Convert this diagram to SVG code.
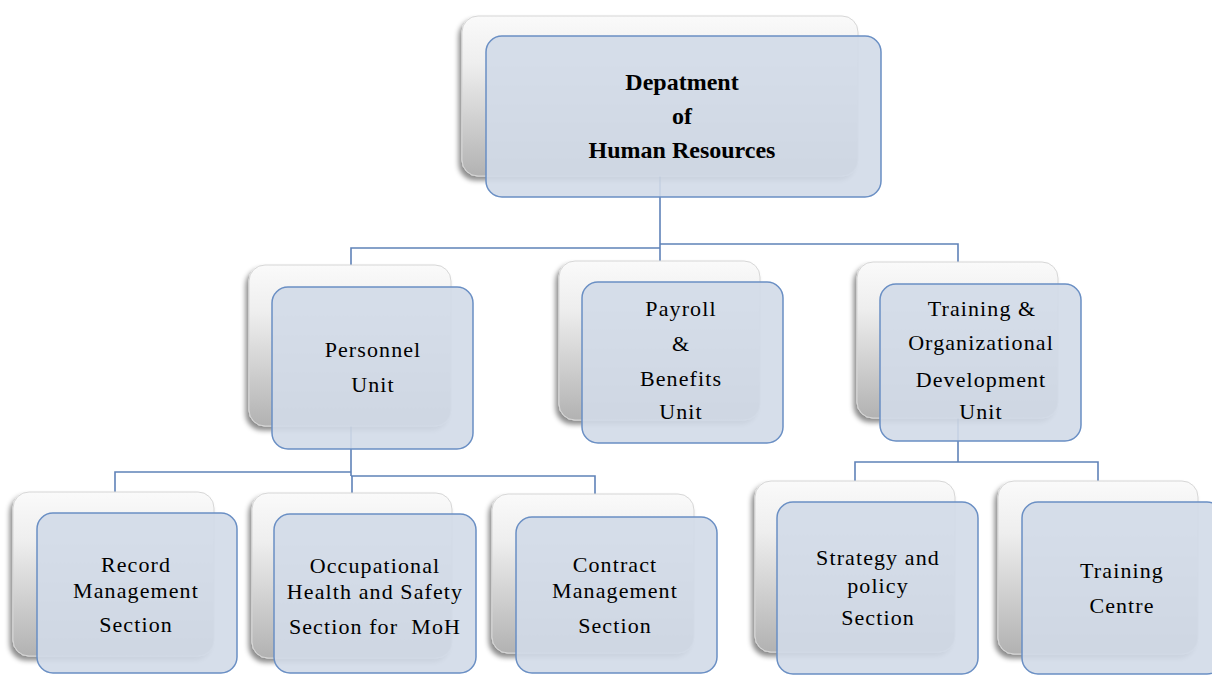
<svg xmlns="http://www.w3.org/2000/svg" width="1212" height="675" viewBox="0 0 1212 675">
<defs>
<linearGradient id="sg" x1="0" y1="0" x2="0" y2="1">
<stop offset="0" stop-color="#fafafa"/>
<stop offset="0.3" stop-color="#eeeeee"/>
<stop offset="1" stop-color="#b2b2b2"/>
</linearGradient>
<filter id="ds" x="-10%" y="-10%" width="120%" height="125%">
<feDropShadow dx="-3" dy="4" stdDeviation="2.5" flood-color="#000" flood-opacity="0.45"/>
</filter>
</defs>
<style>
.back{fill:url(#sg);stroke:#d6d6d6;stroke-width:1;filter:url(#ds)}
.front{fill:#d1dae8;fill-opacity:0.9;stroke:#6a8fc4;stroke-width:1.5}
.con{fill:none;stroke:#5f82b8;stroke-width:1.6}
text{font-family:"Liberation Serif","Times New Roman",serif;font-size:22px;fill:#000;text-anchor:middle;letter-spacing:1.1px}
.b{font-weight:bold;font-size:24px;letter-spacing:0}
</style>
<rect width="1212" height="675" fill="#fff"/>
<g id="connectors">
<path class="con" d="M660 176 V261"/>
<path class="con" d="M351 265 V248 H660"/>
<path class="con" d="M660 244 H958 V263"/>
<path class="con" d="M351 426 V476"/>
<path class="con" d="M115 492 V472 H351"/>
<path class="con" d="M351 476 H595 V494"/>
<path class="con" d="M352 476 V493"/>
<path class="con" d="M958 418 V462"/>
<path class="con" d="M855 481 V462 H1098 V481"/>
</g>
<g id="hr">
<rect class="back" x="462" y="16" width="396" height="160" rx="16"/>
<rect class="front" x="486" y="36" width="395" height="161" rx="16"/>
<text class="b" x="682" y="90">Depatment</text>
<text class="b" x="682" y="124">of</text>
<text class="b" x="682" y="158">Human Resources</text>
</g>
<g id="personnel">
<rect class="back" x="249" y="265" width="202" height="161" rx="16"/>
<rect class="front" x="272" y="287" width="201" height="162" rx="16"/>
<text x="373" y="357">Personnel</text>
<text x="373" y="392">Unit</text>
</g>
<g id="payroll">
<rect class="back" x="559" y="261" width="201" height="159" rx="16"/>
<rect class="front" x="582" y="282" width="201" height="161" rx="16"/>
<text x="681" y="316">Payroll</text>
<text x="681" y="351">&amp;</text>
<text x="681" y="386">Benefits</text>
<text x="681" y="419">Unit</text>
</g>
<g id="training-od">
<rect class="back" x="857" y="262" width="201" height="156" rx="16"/>
<rect class="front" x="880" y="284" width="201" height="157" rx="16"/>
<text x="982" y="316">Training &amp;</text>
<text x="981" y="350">Organizational</text>
<text x="981" y="387">Development</text>
<text x="981" y="419">Unit</text>
</g>
<g id="record">
<rect class="back" x="13" y="492" width="201" height="164" rx="16"/>
<rect class="front" x="37" y="513" width="200" height="160" rx="16"/>
<text x="136" y="572">Record</text>
<text x="136" y="598">Management</text>
<text x="136" y="632">Section</text>
</g>
<g id="ohs">
<rect class="back" x="252" y="493" width="200" height="165" rx="16"/>
<rect class="front" x="274" y="514" width="202" height="159" rx="16"/>
<text x="375" y="573">Occupational</text>
<text x="375" y="599">Health and Safety</text>
<text x="375" y="634">Section for &#160;MoH</text>
</g>
<g id="contract">
<rect class="back" x="492" y="494" width="202" height="159" rx="16"/>
<rect class="front" x="516" y="517" width="201" height="156" rx="16"/>
<text x="615" y="572">Contract</text>
<text x="615" y="598">Management</text>
<text x="615" y="633">Section</text>
</g>
<g id="strategy">
<rect class="back" x="755" y="481" width="200" height="171" rx="16"/>
<rect class="front" x="777" y="502" width="201" height="172" rx="16"/>
<text x="878" y="565">Strategy and</text>
<text x="878" y="593">policy</text>
<text x="878" y="625">Section</text>
</g>
<g id="training-centre">
<rect class="back" x="998" y="481" width="200" height="173" rx="16"/>
<rect class="front" x="1022" y="502" width="201" height="172" rx="16"/>
<text x="1122" y="578">Training</text>
<text x="1122" y="613">Centre</text>
</g>
</svg>
